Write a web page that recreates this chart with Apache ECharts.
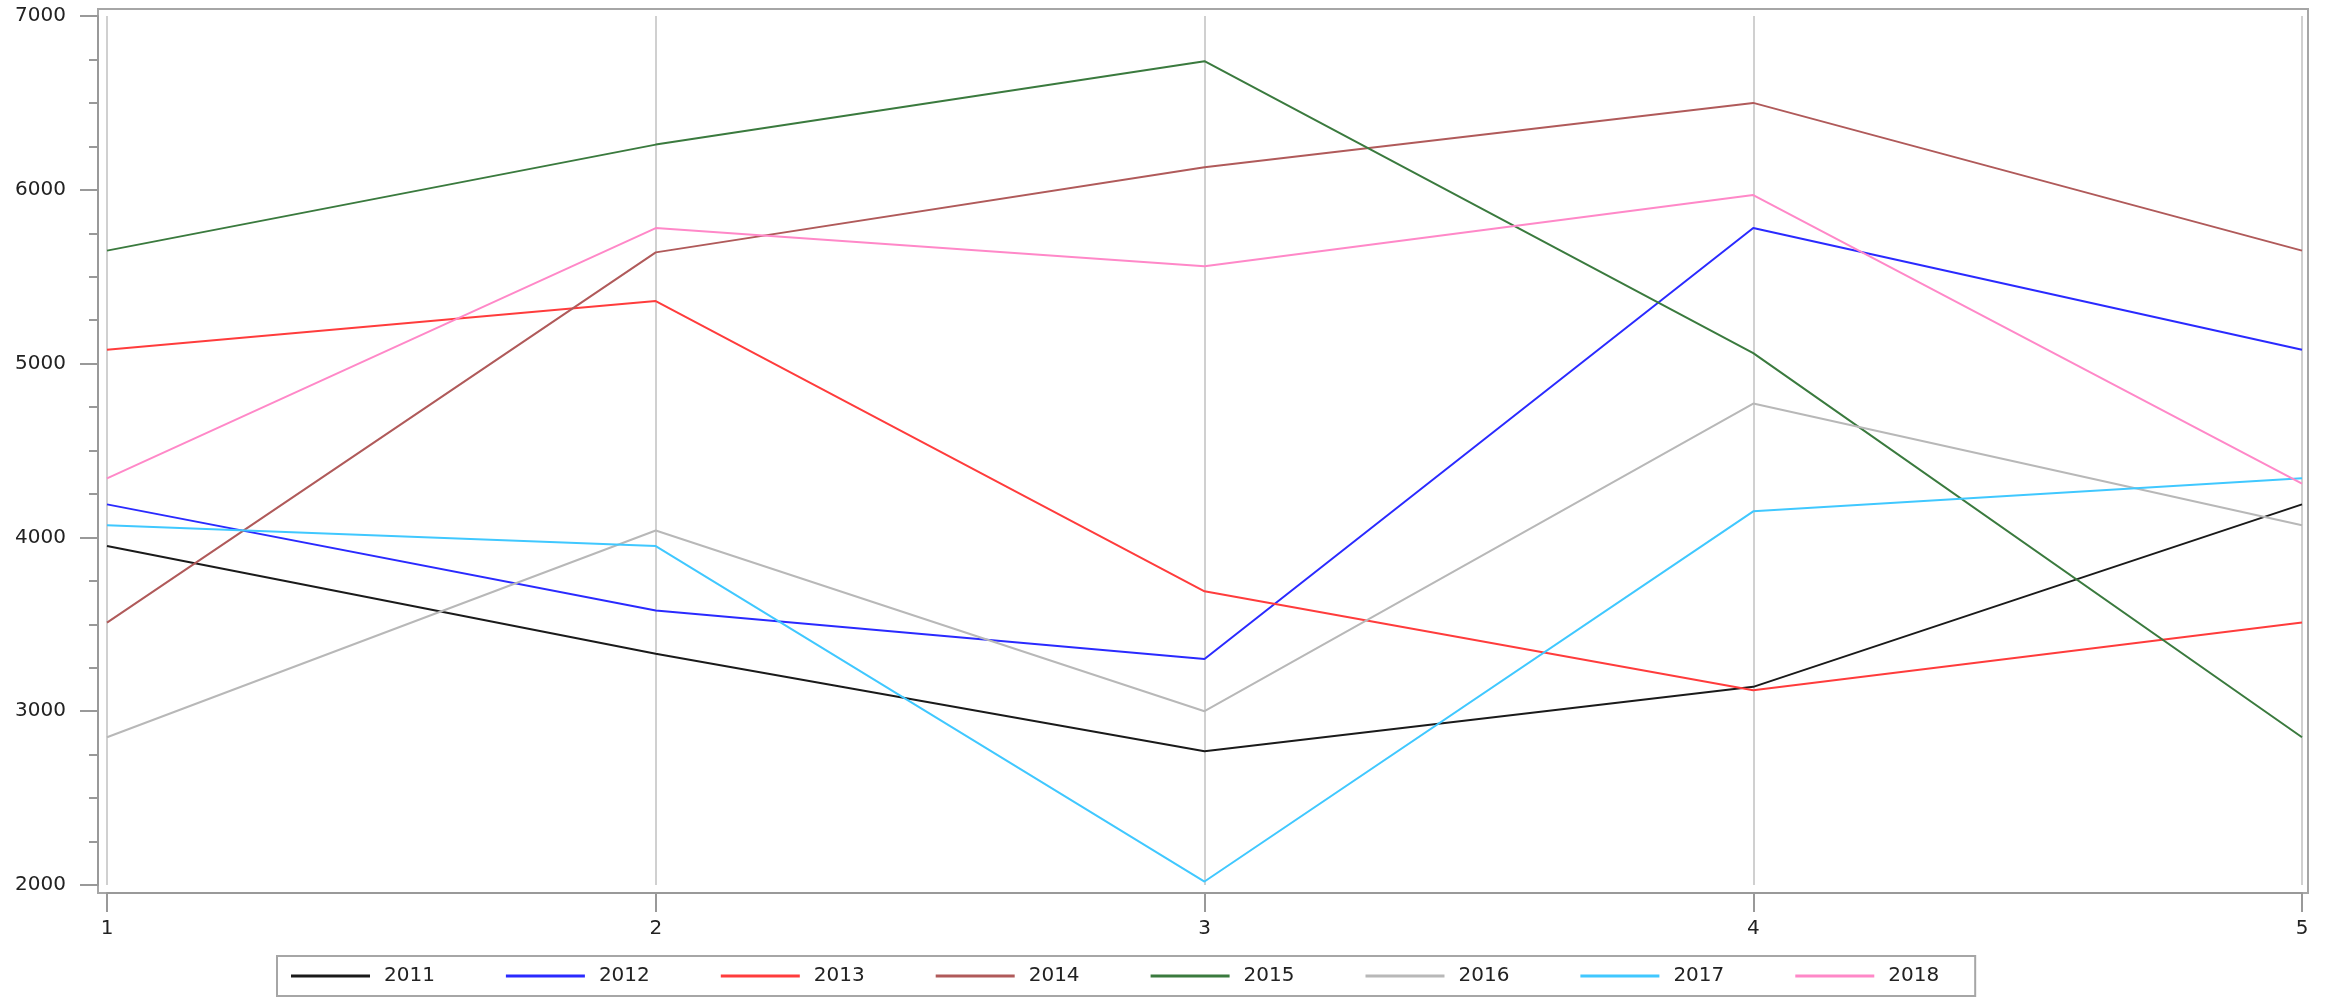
<!DOCTYPE html>
<html>
<head>
<meta charset="utf-8">
<script src="https://cdn.jsdelivr.net/npm/echarts@6/dist/echarts.min.js"></script>
<style>
  html, body { margin: 0; padding: 0; background: #fff; }
  #chart { width: 2331px; height: 1001px; }
</style>
</head>
<body>
<div id="chart"></div>
<script>
// 数据：每年 5 个时段
const periods = [1, 2, 3, 4, 5];
const years = ['2011', '2012', '2013', '2014', '2015', '2016', '2017', '2018'];
const v2011 = [3950, 3330, 2770, 3140, 4190];
const v2012 = [4190, 3580, 3300, 5780, 5080];
const v2013 = [5080, 5360, 3690, 3120, 3510];
const v2014 = [3510, 5640, 6130, 6500, 5650];
const v2015 = [5650, 6260, 6740, 5060, 2850];
const v2016 = [2850, 4040, 3000, 4770, 4070];
const v2017 = [4070, 3950, 2020, 4150, 4340];
const v2018 = [4340, 5780, 5560, 5970, 4310];
const allValues = [v2011, v2012, v2013, v2014, v2015, v2016, v2017, v2018];

const colors = ['#1a1a1a', '#2a2aff', '#ff3c3c', '#b05a5a', '#3a7a3e', '#b8b8b8', '#40c8ff', '#ff88c8'];

const chart = echarts.init(document.getElementById('chart'));

const axisGray = '#999';
const labelFont = { fontFamily: 'DejaVu Sans', fontSize: 20, color: '#222' };

const option = {
  animation: false,
  grid: [
    { left: 107, right: 29, top: 16, bottom: 116 },
    // 外框
    { left: 98, right: 23, top: 9, bottom: 108, show: true, borderColor: '#a6a6a6', borderWidth: 2, backgroundColor: 'transparent' }
  ],
  xAxis: {
    type: 'value',
    gridIndex: 0,
    min: 1,
    max: 5,
    interval: 1,
    offset: 8,
    axisLine: { show: true, lineStyle: { color: axisGray, width: 2 } },
    axisTick: { show: true, length: 19, lineStyle: { color: axisGray, width: 2 } },
    axisLabel: Object.assign({ margin: 26 }, labelFont),
    splitLine: { show: true, lineStyle: { color: '#d0d0d0', width: 2 } }
  },
  yAxis: {
    type: 'value',
    gridIndex: 0,
    min: 2000,
    max: 7000,
    interval: 1000,
    offset: 9,
    axisLine: { show: true, lineStyle: { color: axisGray, width: 2 } },
    axisTick: { show: true, length: 18, lineStyle: { color: axisGray, width: 2 } },
    minorTick: { show: true, splitNumber: 4, length: 9, lineStyle: { color: axisGray, width: 2 } },
    axisLabel: Object.assign({ margin: 32, formatter: v => String(v) }, labelFont),
    splitLine: { show: false }
  },
  legend: {
    left: 277,
    top: 956,
    orient: 'horizontal',
    data: years,
    icon: 'rect',
    itemWidth: 79,
    itemHeight: 3,
    itemGap: 71,
    padding: [10, 36, 10, 14],
    borderColor: '#a6a6a6',
    borderWidth: 2,
    textStyle: { fontFamily: 'DejaVu Sans', fontSize: 20, color: '#222', lineHeight: 20, padding: [0, 0, 0, 9] }
  },
  series: years.map((y, i) => ({
    name: y,
    type: 'line',
    data: periods.map((p, j) => [p, allValues[i][j]]),
    symbol: 'none',
    color: colors[i],
    lineStyle: { width: 2, color: colors[i] }
  }))
};

chart.setOption(option);
</script>
</body>
</html>
